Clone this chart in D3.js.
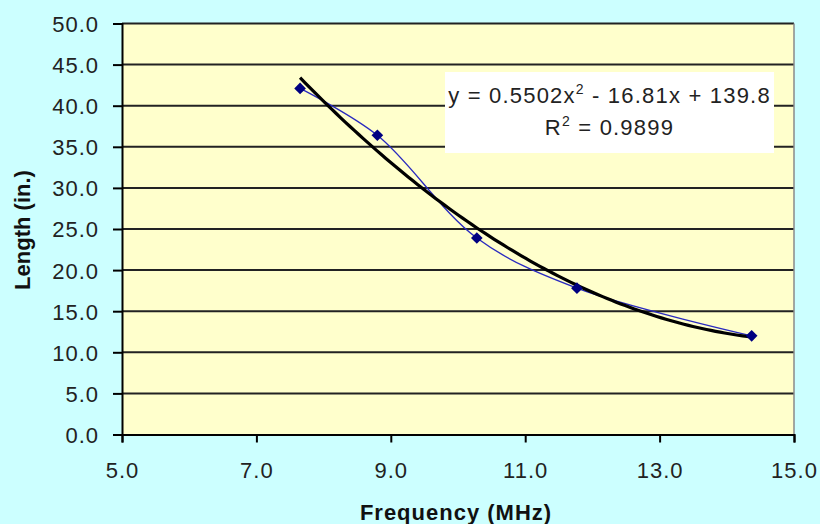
<!DOCTYPE html>
<html>
<head>
<meta charset="utf-8">
<script src="https://cdn.jsdelivr.net/npm/d3@7"></script>
<style>
  html, body { margin: 0; padding: 0; background: #CCFFFF; }
  svg { display: block; font-family: Arial, "Liberation Sans", sans-serif; }
</style>
</head>
<body>
<svg id="chart" width="820" height="524"></svg>
<script>
// Measured antenna element length against operating frequency
const frequency = [7.65, 8.8, 10.28, 11.77, 14.37];
const lengthIn  = [42.1, 36.4, 23.9, 17.8, 12.0];

// Second-order trend line coefficients (a*x^2 + b*x + c) and fit quality
const trendCoef = [0.5502, -16.81, 139.8];
const rSquared = 0.9899;

const xTicks = [5, 7, 9, 11, 13, 15];
const yTicks = [0, 5, 10, 15, 20, 25, 30, 35, 40, 45, 50];

const svg = d3.select("#chart");
const W = 820, H = 524;
const plot = { left: 122, right: 794, top: 23.5, bottom: 434.5 };

svg.append("rect").attr("width", W).attr("height", H).attr("fill", "#CCFFFF");

const x = d3.scaleLinear().domain([5, 15]).range([plot.left, plot.right]);
const y = d3.scaleLinear().domain([0, 50]).range([plot.bottom, plot.top]);

// Plot area
svg.append("rect")
  .attr("x", plot.left).attr("y", plot.top)
  .attr("width", plot.right - plot.left).attr("height", plot.bottom - plot.top)
  .attr("fill", "#FFFFCC");

// Horizontal gridlines
svg.append("g").selectAll("line")
  .data(yTicks.filter(d => d > 0))
  .join("line")
  .attr("x1", plot.left).attr("x2", plot.right)
  .attr("y1", d => y(d)).attr("y2", d => y(d))
  .attr("stroke", "#222").attr("stroke-width", 2);

// Right edge of the plot area
svg.append("line")
  .attr("x1", plot.right).attr("x2", plot.right)
  .attr("y1", plot.top).attr("y2", plot.bottom)
  .attr("stroke", "#8a8a8a").attr("stroke-width", 1.5);

const fmt = d3.format(".1f");

// Y axis
const gy = svg.append("g")
  .attr("transform", `translate(${plot.left},0)`)
  .call(d3.axisLeft(y).tickValues(yTicks).tickFormat(fmt).tickSize(9).tickPadding(14));
gy.select(".domain").attr("stroke", "#000").attr("stroke-width", 2);
gy.selectAll(".tick line").attr("stroke", "#000").attr("stroke-width", 2);
gy.selectAll(".tick text")
  .attr("font-size", 22).attr("fill", "#222")
  .attr("font-family", "Arial, 'Liberation Sans', sans-serif")
  .attr("letter-spacing", 1)
  .attr("dy", "0.36em");

// X axis
const gx = svg.append("g")
  .attr("transform", `translate(0,${plot.bottom})`)
  .call(d3.axisBottom(x).tickValues(xTicks).tickFormat(fmt).tickSize(8).tickPadding(20));
gx.select(".domain").attr("stroke", "#000").attr("stroke-width", 2);
gx.selectAll(".tick line").attr("stroke", "#000").attr("stroke-width", 2);
gx.selectAll(".tick text")
  .attr("font-size", 22).attr("fill", "#222")
  .attr("font-family", "Arial, 'Liberation Sans', sans-serif")
  .attr("letter-spacing", 1)
  .attr("dy", "0.71em");

// Axis titles
svg.append("text")
  .attr("x", 456).attr("y", 520)
  .attr("text-anchor", "middle")
  .attr("font-size", 22).attr("font-weight", "bold")
  .attr("letter-spacing", 1)
  .attr("fill", "#111")
  .text("Frequency (MHz)");

svg.append("text")
  .attr("transform", "translate(30,230) rotate(-90)")
  .attr("text-anchor", "middle")
  .attr("font-size", 22).attr("font-weight", "bold")
  .attr("fill", "#111")
  .text("Length (in.)");

// Smoothed line through the measurements
const pts = frequency.map((f, i) => [f, lengthIn[i]]);
svg.append("path")
  .datum(pts)
  .attr("fill", "none")
  .attr("stroke", "#2a2abf")
  .attr("stroke-width", 1.3)
  .attr("d", d3.line().x(d => x(d[0])).y(d => y(d[1])).curve(d3.curveCatmullRom.alpha(0.5)));

// Polynomial trend line over the measured frequency span
const poly = f => trendCoef[0] * f * f + trendCoef[1] * f + trendCoef[2];
const fMin = d3.min(frequency), fMax = d3.max(frequency);
const trendPts = d3.range(0, 101).map(i => {
  const f = fMin + (fMax - fMin) * i / 100;
  return [f, poly(f)];
});
svg.append("path")
  .datum(trendPts)
  .attr("fill", "none")
  .attr("stroke", "#000")
  .attr("stroke-width", 3.2)
  .attr("stroke-linejoin", "round")
  .attr("d", d3.line().x(d => x(d[0])).y(d => y(d[1])));

// Diamond markers
svg.append("g").selectAll("path")
  .data(pts)
  .join("path")
  .attr("transform", d => `translate(${x(d[0])},${y(d[1])}) rotate(45)`)
  .attr("d", d3.symbol(d3.symbolSquare, 68)())
  .attr("fill", "#000080");

// Trend equation label
const box = svg.append("g");
box.append("rect")
  .attr("x", 445).attr("y", 72).attr("width", 329).attr("height", 81)
  .attr("fill", "#fff");
const eq = box.append("text")
  .attr("x", 609.5).attr("y", 103)
  .attr("text-anchor", "middle")
  .attr("font-size", 22).attr("fill", "#222")
  .attr("letter-spacing", 1.2);
eq.append("tspan").text(`y = ${trendCoef[0]}x`);
eq.append("tspan").attr("font-size", 14).attr("dy", -9).text("2");
eq.append("tspan").attr("dy", 9).text(` - ${Math.abs(trendCoef[1])}x + ${trendCoef[2]}`);

const r2 = box.append("text")
  .attr("x", 609.5).attr("y", 135)
  .attr("text-anchor", "middle")
  .attr("font-size", 22).attr("fill", "#222")
  .attr("letter-spacing", 1.2);
r2.append("tspan").text("R");
r2.append("tspan").attr("font-size", 14).attr("dy", -9).text("2");
r2.append("tspan").attr("dy", 9).text(` = ${rSquared}`);
</script>
</body>
</html>
